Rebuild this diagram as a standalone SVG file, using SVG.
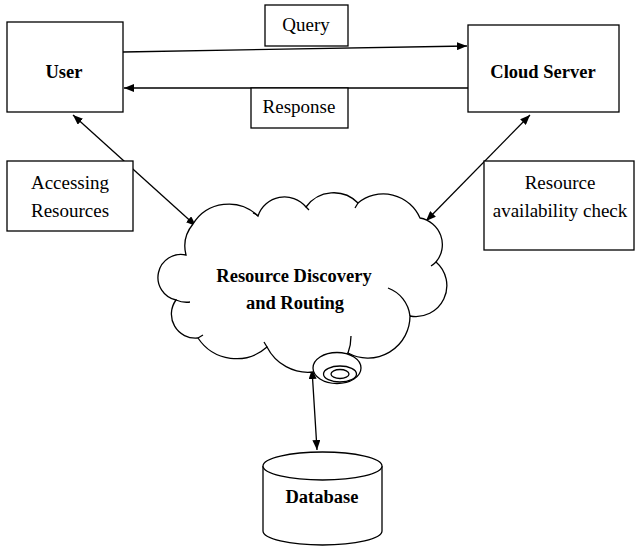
<svg xmlns="http://www.w3.org/2000/svg" width="635" height="547" viewBox="0 0 635 547">
<style>
.box{fill:#fff;stroke:#000;stroke-width:1.3}
.ln{fill:none;stroke:#000;stroke-width:1.3}
.lbl{font-family:"Liberation Serif","Times New Roman",serif;font-size:19px;fill:#000;text-anchor:middle}
.bold{font-weight:bold;font-size:18.5px}
</style>
<defs>
<marker id="ah" viewBox="0 0 10 8" markerWidth="10" markerHeight="8" refX="10" refY="4" orient="auto-start-reverse" markerUnits="userSpaceOnUse">
<path d="M0,0 L10,4 L0,8 z" fill="#000"/>
</marker>
</defs>
<rect width="635" height="547" fill="#fff"/>
<g id="connectors">
<line class="ln" x1="123" y1="52" x2="467" y2="46" marker-end="url(#ah)"/>
<line class="ln" x1="468" y1="88" x2="124" y2="88" marker-end="url(#ah)"/>
<line class="ln" x1="73" y1="115" x2="196" y2="226" marker-start="url(#ah)" marker-end="url(#ah)"/>
<line class="ln" x1="530" y1="115" x2="426" y2="221" marker-start="url(#ah)" marker-end="url(#ah)"/>
<line class="ln" x1="312" y1="369" x2="317" y2="450" marker-start="url(#ah)" marker-end="url(#ah)"/>
</g>
<g id="user">
<rect class="box" x="7" y="22" width="116" height="90"/>
<text class="lbl bold" x="64" y="78">User</text>
</g>
<g id="cloud-server">
<rect class="box" x="468" y="25" width="151" height="87"/>
<text class="lbl bold" x="543" y="78">Cloud Server</text>
</g>
<g id="query">
<rect class="box" x="265" y="5" width="83" height="41"/>
<text class="lbl" x="306" y="31">Query</text>
</g>
<g id="response">
<rect class="box" x="251" y="88" width="97" height="40"/>
<text class="lbl" x="299" y="113">Response</text>
</g>
<g id="accessing-resources">
<rect class="box" x="7" y="161" width="126" height="70"/>
<text class="lbl" x="70" y="189">Accessing</text>
<text class="lbl" x="70" y="217">Resources</text>
</g>
<g id="availability-check">
<rect class="box" x="484" y="161" width="150" height="89"/>
<text class="lbl" x="560" y="189">Resource</text>
<text class="lbl" x="560" y="217">availability check</text>
</g>
<g id="resource-discovery">
<path class="box" d="M193,224 A42,42 0 0 1 258,216 A28,28 0 0 1 306,207 A34,34 0 0 1 358,203 A40,40 0 0 1 420,218 A27,27 0 0 1 436,262 A31,31 0 0 1 410,316 A42,42 0 0 1 348,353 L313,372 A46,46 0 0 1 267,347 A46,46 0 0 1 198,338 A24,24 0 0 1 176,300 A23,23 0 0 1 186,255 A35,35 0 0 1 193,224 Z"/>
<path class="ln" d="M388,288 A34,34 0 0 1 410,316 M436,262 Q434,264 431,266 M351,336 Q351,345 348,353 M267,347 L264,342 M198,338 L203,335 M176,300 Q183,303 190,302 M306,207 L309,210 M258,216 Q256,214 253,213 M358,203 L355,208"/>
<ellipse class="box" cx="337" cy="368" rx="24" ry="15.5"/>
<ellipse class="box" cx="340" cy="374" rx="16.5" ry="8"/>
<ellipse class="box" cx="340" cy="374" rx="9" ry="4.5"/>
<text class="lbl bold" x="294" y="282">Resource Discovery</text>
<text class="lbl bold" x="295" y="309">and Routing</text>
</g>
<g id="database">
<path class="box" d="M263,466 L263,531 A59.5,14 0 0 0 382,531 L382,466"/>
<ellipse class="box" cx="322.5" cy="466" rx="59.5" ry="14"/>
<text class="lbl bold" x="322" y="503">Database</text>
</g>
</svg>
